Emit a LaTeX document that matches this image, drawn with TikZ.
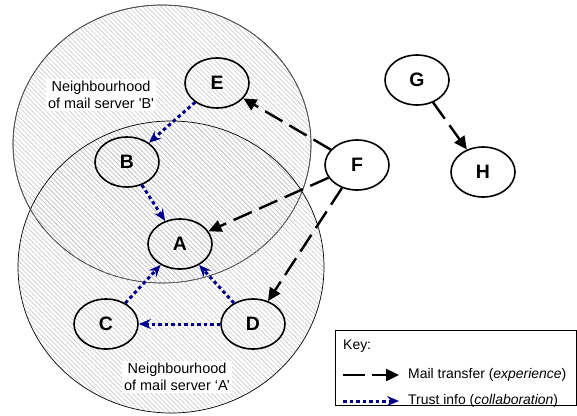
\documentclass[tikz,border=0pt]{standalone}
\usepackage{fontspec}
\setmainfont{Liberation Sans}
\usetikzlibrary{arrows.meta,patterns.meta,shapes.geometric}
\definecolor{trustblue}{RGB}{0,0,140}
\definecolor{hatch}{RGB}{200,200,200}
\begin{document}
\begin{tikzpicture}[x=1bp,y=-1bp,
  hood/.style={draw=black,line width=0.7bp,pattern={Lines[angle=-45,distance=3.3bp,line width=0.6bp]},pattern color=hatch},
  srv/.style={draw=black,line width=1.6bp,ellipse,minimum width=64bp,minimum height=50bp,inner sep=0pt,font=\fontsize{19.5}{21}\selectfont\bfseries},
  mail/.style={draw=black,line width=2.4bp,dash pattern=on 20bp off 8bp,-{Triangle[length=13bp,width=12bp]}},
  trust/.style={draw=trustblue,line width=3bp,dash pattern=on 3.5bp off 3bp,-{Stealth[length=12bp,width=10bp,inset=4bp]}},
  lbl/.style={fill=white,inner sep=2bp,align=center,font=\fontsize{14.5}{17}\selectfont},
  keytxt/.style={anchor=west,inner sep=0pt,font=\fontsize{14}{16}\selectfont}]
\useasboundingbox (0,0) rectangle (577,415);
\fill[white] (0,0) rectangle (577,415);
% neighbourhoods
\path[hood] (162,144) ellipse [x radius=149,y radius=139];
\path[hood] (171,267) ellipse [x radius=153,y radius=146];
\draw[black!60,line width=0.5bp] (162,144) ellipse [x radius=149,y radius=139];
% hood labels
\node[lbl] (lb) at (101,95) {Neighbourhood\\of mail server \textquotesingle B\textquotesingle};
\node[lbl] (la) at (177,377) {Neighbourhood\\of mail server ‘A’};
% servers
\node[srv] (E) at (217,83) {E};
\node[srv] (B) at (127,162) {B};
\node[srv] (A) at (180,244) {A};
\node[srv] (C) at (106,324) {C};
\node[srv] (D) at (253,324) {D};
\node[srv] (F) at (357,165) {F};
\node[srv] (G) at (417,80) {G};
\node[srv] (H) at (483,172) {H};
% mail transfer
\draw[mail] (F) -- (E);
\draw[mail] (F) -- (A);
\draw[mail] (F) -- (D);
\draw[mail] (G) -- (H);
% trust info
\draw[trust] (E) -- (B);
\draw[trust] (B) -- (A);
\draw[trust] (C) -- (A);
\draw[trust] (D) -- (A);
\draw[trust] (D) -- (C);
% key
\draw[black,line width=0.7bp] (335,330) rectangle (576.5,405);
\node[keytxt] (k0) at (343,346) {Key:};
\coordinate (m1) at (343,375);
\coordinate (m2) at (399,375);
\coordinate (t1) at (343,401);
\coordinate (t2) at (399,401);
\draw[mail,dash pattern=on 22bp off 7bp] (m1) -- (m2);
\draw[trust] (t1) -- (t2);
\node[keytxt] (k1) at (408,375) {Mail transfer (\textit{experience})};
\node[keytxt] (k2) at (408,401) {Trust info (\textit{collaboration})};
\end{tikzpicture}
\end{document}
